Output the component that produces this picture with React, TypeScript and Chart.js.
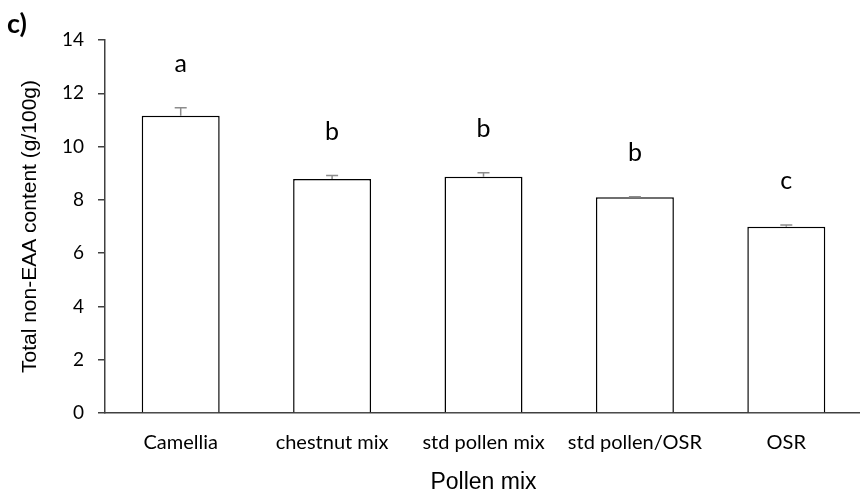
import React, { useEffect, useRef } from "react";
import { Chart, registerables } from "chart.js";

Chart.register(...registerables);

const categories = ["Camellia", "chestnut mix", "std pollen mix", "std pollen/OSR", "OSR"];
const values = [11.16, 8.78, 8.87, 8.1, 6.99];
const errors = [0.3, 0.13, 0.15, 0.02, 0.07];
const letters = ["a", "b", "b", "b", "c"];
const yTicks = [0, 2, 4, 6, 8, 10, 12, 14];
const panelLabel = "c)";
const xTitle = "Pollen mix";
const yTitle = "Total non-EAA content (g/100g)";

const CW = 880;
const CH = 497;
const ARIAL = "'Liberation Sans', Arial, sans-serif";

export default function App() {
  const ref = useRef<HTMLCanvasElement | null>(null);
  useEffect(() => {
    const canvas = ref.current;
    if (!canvas) return;
    const overlay = {
      id: "overlay",
      afterDatasetsDraw(chart: any) {
        const ctx = chart.ctx;
        const meta = chart.getDatasetMeta(0);
        const ys = chart.scales.y;
        ctx.save();
        meta.data.forEach((bar: any, i: number) => {
          const x = bar.x;
          const yTop = ys.getPixelForValue(values[i] + errors[i]);
          const yBot = ys.getPixelForValue(values[i]);
          ctx.strokeStyle = "#8c8c8c";
          ctx.lineWidth = 1.5;
          ctx.beginPath();
          ctx.moveTo(x, yBot);
          ctx.lineTo(x, yTop);
          ctx.moveTo(x - 6, yTop);
          ctx.lineTo(x + 6, yTop);
          ctx.stroke();
          ctx.fillStyle = "#000";
          ctx.font = "25px Lato";
          ctx.textAlign = "center";
          ctx.textBaseline = "alphabetic";
          ctx.fillText(letters[i], x, yTop - 36);
        });
        ctx.font = "bold 27px Lato";
        ctx.textAlign = "left";
        ctx.fillText(panelLabel, 7, 33);
        ctx.restore();
      },
    };
    const chart = new Chart(canvas, {
      type: "bar",
      data: {
        labels: categories,
        datasets: [
          {
            data: values,
            backgroundColor: "#ffffff",
            borderColor: "#000000",
            borderWidth: 1.5,
            categoryPercentage: 1,
            barPercentage: 0.515,
          },
        ],
      },
      options: {
        animation: false,
        responsive: false,
        maintainAspectRatio: false,
        layout: { padding: { top: 40, right: 18, left: 0, bottom: 0 } },
        plugins: { legend: { display: false }, tooltip: { enabled: false } },
        scales: {
          x: {
            grid: { display: false },
            border: { display: true, color: "#404040", width: 1.5 },
            ticks: { color: "#000", font: { family: "Lato", size: 20 }, padding: 10, maxRotation: 0 },
            title: {
              display: true,
              text: xTitle,
              color: "#000",
              font: { family: ARIAL, size: 23 },
              padding: { top: 0, bottom: 1 },
            },
            afterFit(scale: any) {
              scale.height = 84;
            },
          },
          y: {
            min: 0,
            max: 14,
            afterBuildTicks(scale: any) {
              scale.ticks = yTicks.map((v) => ({ value: v }));
            },
            grid: { display: true, drawOnChartArea: false, drawTicks: true, tickLength: 7, color: "#404040", lineWidth: 1.5 },
            border: { display: true, color: "#404040", width: 1.5 },
            ticks: { color: "#000", font: { family: "Lato", size: 19 }, padding: 14 },
            title: {
              display: true,
              text: yTitle,
              color: "#000",
              font: { family: ARIAL, size: 21 },
              padding: { top: 18, bottom: 0 },
            },
            afterFit(scale: any) {
              scale.width = 105;
            },
          },
        },
      },
      plugins: [overlay],
    });
    return () => chart.destroy();
  }, []);
  return (
    <div style={{ position: "fixed", left: 0, top: 0, width: 860, height: 497, overflow: "hidden", background: "#fff" }}>
      <canvas ref={ref} width={CW} height={CH} style={{ width: CW, height: CH, display: "block" }} />
    </div>
  );
}
